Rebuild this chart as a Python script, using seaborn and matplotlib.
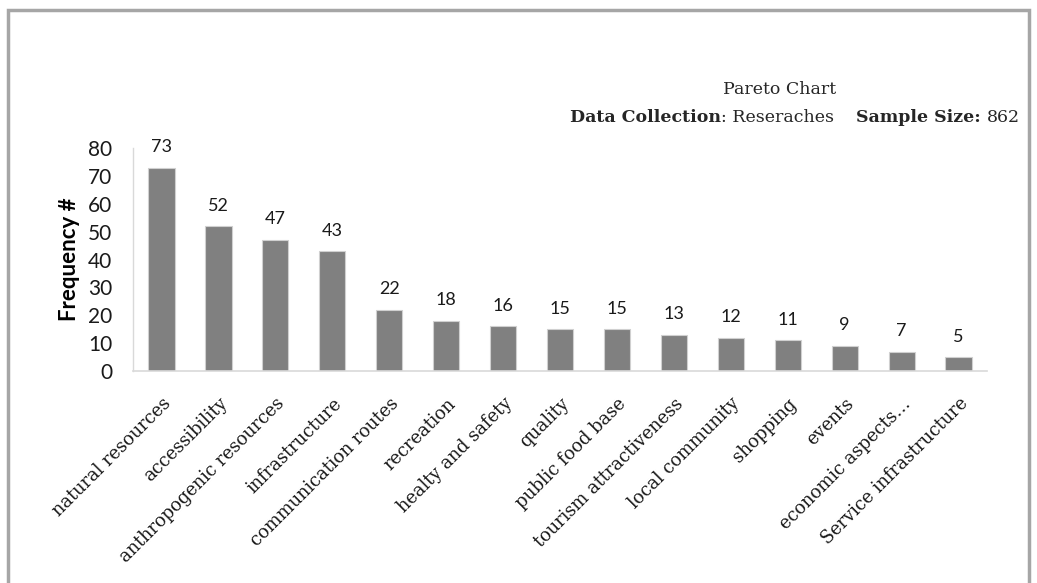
import numpy as np
import pandas as pd
import matplotlib
matplotlib.use("Agg")
import matplotlib.pyplot as plt
import seaborn as sns
from matplotlib.patches import Rectangle

categories = [
    "natural resources", "accessibility", "anthropogenic resources",
    "infrastructure", "communication routes", "recreation",
    "healty and safety", "quality", "public food base",
    "tourism attractiveness", "local community", "shopping", "events",
    "economic aspects\u2026", "Service infrastructure",
]
frequency = [73, 52, 47, 43, 22, 18, 16, 15, 15, 13, 12, 11, 9, 7, 5]
y_ticks = [0, 10, 20, 30, 40, 50, 60, 70, 80]

sns.set_theme(style="white")
plt.rcParams["font.family"] = ["Lato", "DejaVu Sans"]
serif = ["DejaVu Serif"]

df = pd.DataFrame({"category": categories, "frequency": frequency})

fig = plt.figure(figsize=(10.37, 5.83), dpi=100)
ax = fig.add_axes([0.1283, 0.3636, 0.8235, 0.3825])
fig.canvas.draw()
renderer = fig.canvas.get_renderer()


def text_width(text, size, weight="normal"):
    t = fig.text(0, 0, text, fontsize=size, family=serif, fontweight=weight)
    w = t.get_window_extent(renderer).width
    t.remove()
    return w


def fit_size(text, target_px, weight="normal", base=12):
    # font size that makes `text` about target_px wide
    return base * target_px / text_width(text, base, weight)


sns.barplot(data=df, x="category", y="frequency", color="#808080",
            saturation=1, width=0.46, edgecolor="#d0d0d0", linewidth=0.8,
            ax=ax)

ax.set_xlim(-0.5, len(categories) - 0.5)
ax.set_ylim(0, 80)
ax.set_yticks(y_ticks)
ax.tick_params(axis="y", labelsize=15, length=0, pad=15, labelcolor="#1a1a1a")
ax.tick_params(axis="x", length=0, pad=17)

# value labels above bars
for i, v in enumerate(frequency):
    ax.text(i, v + 4.5, str(v), ha="center", va="bottom", fontsize=13,
            color="#1a1a1a")

label_size = fit_size("anthropogenic resources", 226)
ax.set_xticks(range(len(categories)))
ax.set_xticklabels(categories, rotation=45, ha="right",
                   rotation_mode="anchor", fontsize=label_size,
                   family=serif, color="#1a1a1a")
ax.set_xlabel("")
ax.set_ylabel("Frequency #", fontsize=16, fontweight="bold", labelpad=6,
              color="#000000")

for s in ["top", "right"]:
    ax.spines[s].set_visible(False)
ax.spines["left"].set_color("#d9d9d9")
ax.spines["bottom"].set_color("#d9d9d9")
ax.spines["left"].set_linewidth(1)
ax.spines["bottom"].set_linewidth(1.2)

# header text: pieces chained left to right, whole line ends at x=1020 px
H = 1037
hsize = fit_size("Data Collection", 150, weight="bold")
fig.text(780 / H, 0.847, "Pareto Chart", ha="center", va="center",
         fontsize=hsize, family=serif)
pieces = [("Data Collection", "bold"), (": Reseraches", "normal"),
          ("    ", "normal"), ("Sample Size: ", "bold"), ("862", "normal")]
total = sum(text_width(p, hsize, w) for p, w in pieces)
x_px = 1020 - total
for p, w in pieces:
    fig.text(x_px / H, 0.798, p, ha="left", va="center",
             fontsize=hsize, family=serif, fontweight=w)
    x_px += text_width(p, hsize, w)

# outer frame (bottom edge cut off)
fig.add_artist(Rectangle((0.008, -0.05), 0.984, 1.033,
                         transform=fig.transFigure, fill=False,
                         edgecolor="#a6a6a6", linewidth=2.5))

fig.savefig("out.png", dpi=100)
